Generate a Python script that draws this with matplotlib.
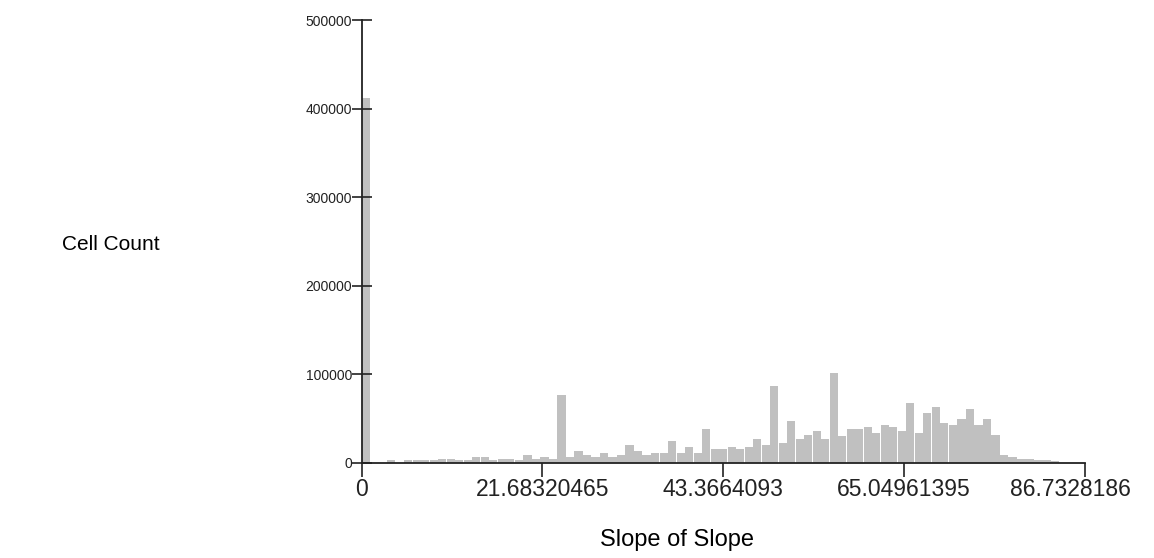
import matplotlib.pyplot as plt
import numpy as np

plt.rcParams['font.family'] = ['Liberation Sans', 'DejaVu Sans']

# histogram of slope-of-slope values (85 bins)
x_max = 86.7328186
cell_counts = [
    412000, 0, 0, 2300, 0, 2300, 2600, 2600, 2600, 4500,
    4500, 2600, 2600, 6800, 6800, 2300, 4500, 4500, 2600, 9000,
    4500, 6800, 4100, 76300, 6800, 13200, 8600, 6800, 10900, 6800,
    9000, 19900, 13500, 8600, 11300, 11300, 24800, 11300, 18000, 11300,
    38000, 15800, 15400, 17600, 15000, 17600, 27100, 19600, 86100, 22600,
    47000, 26300, 31600, 35500, 27100, 101500, 29500, 38000, 38000, 40600,
    33500, 42500, 40200, 35700, 67000, 33500, 56000, 62400, 44700, 42500,
    49200, 60200, 42500, 49200, 31200, 9000, 6800, 4100, 4100, 2300,
    2300, 1900, 0, 0, 0,
]
x_ticks = [0, 21.68320465, 43.3664093, 65.04961395, 86.7328186]
x_tick_labels = ['0', '21.68320465', '43.3664093', '65.04961395', '86.7328186']
y_ticks = [0, 100000, 200000, 300000, 400000, 500000]
y_tick_labels = ['0', '100000', '200000', '300000', '400000', '500000']

edges = np.linspace(0, x_max, len(cell_counts) + 1)
bin_w = edges[1] - edges[0]

fig = plt.figure(figsize=(11.54, 5.58), dpi=100)
ax = fig.add_axes([0.3134, 0.1711, 0.6268, 0.793])

ax.bar(edges[:-1], cell_counts, width=bin_w * 0.96, align='edge',
       color='#c0c0c0', linewidth=0)

ax.set_xlim(0, x_max)
ax.set_ylim(0, 500000)
ax.set_xticks(x_ticks)
# last label is drawn by hand below, pulled left to stay in the picture
ax.set_xticklabels(x_tick_labels[:-1] + [''], fontsize=16.5)
ax.set_yticks(y_ticks)
ax.set_yticklabels(y_tick_labels, fontsize=10)

fig.text(1070 / 1154, 1 - 490 / 558, x_tick_labels[-1], fontsize=16.5,
         ha='center', va='center', color='#222222')

for side in ('top', 'right'):
    ax.spines[side].set_visible(False)
for side in ('left', 'bottom'):
    ax.spines[side].set_linewidth(1.3)
    ax.spines[side].set_color('#222222')

ax.tick_params(axis='y', direction='inout', length=14, width=1.2, pad=0,
               colors='#222222')
ax.tick_params(axis='x', direction='out', length=10, width=1.2, pad=1,
               colors='#222222')

fig.text(111 / 1154, 1 - 245 / 558, 'Cell Count', fontsize=15,
         ha='center', va='center')
fig.text(677 / 1154, 1 - 540 / 558, 'Slope of Slope', fontsize=17,
         ha='center', va='center')

fig.savefig('out.png', dpi=100)
